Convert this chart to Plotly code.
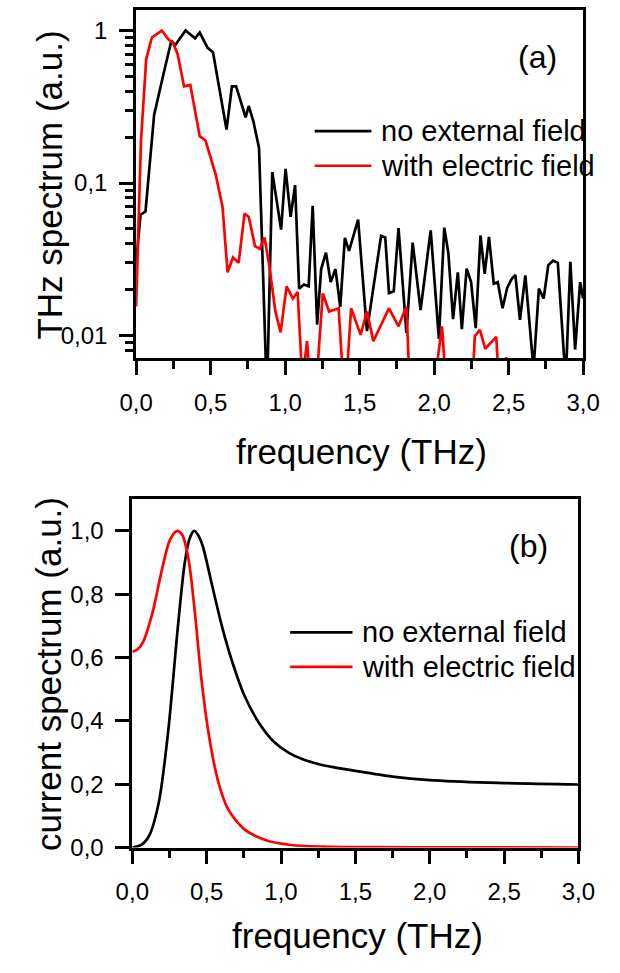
import plotly.graph_objects as go

W, H = 620, 973

# ---------------- Panel (a): THz spectrum (log scale) ----------------
a_black_f = [0.000, 0.030, 0.063, 0.121, 0.180, 0.237, 0.262, 0.332, 0.396, 0.427,
             0.480, 0.516, 0.607, 0.643, 0.671, 0.735, 0.756, 0.787, 0.825, 0.878,
             0.914, 0.973, 1.003, 1.037, 1.067, 1.094, 1.126, 1.158, 1.185, 1.215,
             1.242, 1.274, 1.306, 1.338, 1.370, 1.401, 1.429, 1.490, 1.549, 1.644,
             1.672, 1.697, 1.729, 1.761, 1.814, 1.856, 1.909, 1.977, 2.032, 2.068,
             2.095, 2.127, 2.159, 2.186, 2.218, 2.248, 2.279, 2.311, 2.339, 2.368,
             2.400, 2.427, 2.459, 2.490, 2.520, 2.545, 2.576, 2.612, 2.667, 2.703,
             2.735, 2.766, 2.798, 2.830, 2.883, 2.914, 2.946, 2.980, 3.000]
a_black_v = [0.030, 0.062, 0.065, 0.28, 0.50, 0.86, 0.80, 1.00, 0.89, 0.97,
             0.77, 0.72, 0.224, 0.43, 0.43, 0.27, 0.32, 0.254, 0.17, 0.004,
             0.118, 0.0495, 0.124, 0.060, 0.097, 0.0203, 0.0216, 0.021, 0.071, 0.0118,
             0.0273, 0.035, 0.0224, 0.0273, 0.0154, 0.0437, 0.0359, 0.0575, 0.0107, 0.045,
             0.044, 0.019, 0.0195, 0.0507, 0.0104, 0.0407, 0.0147, 0.049, 0.0095, 0.051,
             0.035, 0.0128, 0.026, 0.011, 0.0275, 0.0224, 0.0112, 0.0453, 0.0254, 0.0444,
             0.0219, 0.0224, 0.0151, 0.0205, 0.0235, 0.025, 0.0127, 0.0248, 0.006, 0.0203,
             0.0175, 0.029, 0.031, 0.030, 0.005, 0.0305, 0.0081, 0.0224, 0.0175]

a_red_f = [0.000, 0.033, 0.068, 0.106, 0.173, 0.216, 0.248, 0.279, 0.322, 0.364,
           0.427, 0.466, 0.533, 0.580, 0.614, 0.650, 0.688, 0.728, 0.756, 0.798,
           0.830, 0.862, 0.893, 0.935, 0.970, 1.010, 1.052, 1.084, 1.116, 1.147,
           1.168, 1.211, 1.253, 1.295, 1.359, 1.390, 1.411, 1.443, 1.507, 1.549,
           1.592, 1.697, 1.761, 1.814, 1.835, 2.004, 2.053, 2.078, 2.258, 2.273,
           2.307, 2.343, 2.417, 2.434, 2.484, 2.500, 3.000]
a_red_v = [0.0155, 0.19, 0.65, 0.90, 1.00, 0.875, 0.83, 0.70, 0.43, 0.44,
           0.203, 0.19, 0.115, 0.070, 0.026, 0.0325, 0.030, 0.063, 0.060, 0.0386,
           0.037, 0.044, 0.029, 0.0144, 0.0105, 0.021, 0.0175, 0.0193, 0.005, 0.0092,
           0.005, 0.005, 0.0189, 0.0144, 0.0151, 0.005, 0.005, 0.0151, 0.0101, 0.0144,
           0.0092, 0.0151, 0.0115, 0.0155, 0.005, 0.005, 0.0115, 0.005, 0.005, 0.0099,
           0.0109, 0.0082, 0.0098, 0.005, 0.0072, 0.005, 0.004]

# ---------------- Panel (b): current spectrum (linear) ----------------
b_black_f = [0.0, 0.06, 0.114, 0.178, 0.242, 0.305, 0.352, 0.385, 0.415, 0.445,
             0.475, 0.538, 0.602, 0.665, 0.75, 0.85, 0.95, 1.05, 1.15, 1.25,
             1.35, 1.5, 1.75, 2.0, 2.4, 3.0]
b_black_v = [0.0, 0.008, 0.038, 0.142, 0.37, 0.69, 0.897, 0.975, 1.0, 0.985,
             0.95, 0.825, 0.70, 0.597, 0.484, 0.395, 0.335, 0.300, 0.278, 0.264,
             0.254, 0.242, 0.224, 0.213, 0.205, 0.199]

b_red_f = [0.0, 0.036, 0.072, 0.136, 0.199, 0.252, 0.301, 0.337, 0.379, 0.421,
           0.464, 0.517, 0.58, 0.644, 0.75, 0.898, 1.068, 1.28, 1.6, 2.0, 3.0]
b_red_v = [0.618, 0.626, 0.649, 0.742, 0.877, 0.97, 1.0, 0.986, 0.908, 0.742,
           0.535, 0.349, 0.204, 0.121, 0.059, 0.023, 0.008, 0.003, 0.001, 0.0005, 0.0]

series_names = ["no external field", "with electric field"]
series_colors = ["#000000", "#FF0000"]

a_y_tickvals = [0.01, 0.1, 1]
a_y_ticktext = ["0,01", "0,1", "1"]
a_y_minor = [0.008, 0.009, 0.02, 0.03, 0.04, 0.05, 0.06, 0.07, 0.08, 0.09,
             0.2, 0.3, 0.4, 0.5, 0.6, 0.7, 0.8, 0.9]

FONT = "Liberation Sans, Arial, sans-serif"
TICKFONT = dict(family=FONT, size=24, color="black")
LW = 2.7


def px_x(x):
    return x / W


def px_y(y):
    return 1 - y / H


fig = go.Figure()

for f, v, name, col in [(a_black_f, a_black_v, series_names[0], series_colors[0]),
                        (a_red_f, a_red_v, series_names[1], series_colors[1])]:
    fig.add_trace(go.Scatter(x=f, y=v, mode="lines", name=name,
                             line=dict(color=col, width=LW),
                             xaxis="x", yaxis="y", showlegend=False))

for f, v, name, col in [(b_black_f, b_black_v, series_names[0], series_colors[0]),
                        (b_red_f, b_red_v, series_names[1], series_colors[1])]:
    fig.add_trace(go.Scatter(x=f, y=v, mode="lines", name=name,
                             line=dict(color=col, width=LW, shape="spline", smoothing=0.8),
                             xaxis="x2", yaxis="y2", showlegend=False))

common = dict(showline=True, linecolor="black", linewidth=2.7, mirror=True,
              ticks="outside", ticklen=14, tickwidth=2.5, tickcolor="black",
              tickfont=TICKFONT, showgrid=False, zeroline=False, ticklabelstandoff=7)

xcommon = dict(range=[0, 3], tickmode="linear", tick0=0, dtick=0.5, tickformat=".1f",
               minor=dict(tickmode="linear", tick0=0, dtick=0.25, ticks="outside",
                          ticklen=8, tickwidth=2.5, tickcolor="black"),
               **common)

fig.update_layout(
    width=W, height=H, autosize=False,
    margin=dict(l=0, r=0, t=0, b=0),
    paper_bgcolor="white", plot_bgcolor="white",
    separators=",.",
    showlegend=False,
    xaxis=dict(domain=[px_x(126), px_x(599)], anchor="y", **xcommon),
    yaxis=dict(domain=[px_y(363), px_y(10)], anchor="x", type="log",
               range=[-2.148, 0.1355], tickmode="array",
               tickvals=a_y_tickvals, ticktext=a_y_ticktext,
               minor=dict(tickmode="array", tickvals=a_y_minor, ticks="outside",
                          ticklen=8, tickwidth=2.5, tickcolor="black"),
               **common),
    xaxis2=dict(domain=[px_x(122), px_x(594)], anchor="y2", **xcommon),
    yaxis2=dict(domain=[px_y(859), px_y(506)], anchor="x2", range=[0, 1.1],
                tickmode="linear", tick0=0, dtick=0.2, tickformat=".1f", **common),
)

ann = []
shapes = []
# axis titles
ann.append(dict(text="frequency (THz)", x=px_x(364), y=px_y(458), xref="paper", yref="paper",
                showarrow=False, xanchor="center", yanchor="middle",
                font=dict(family=FONT, size=35, color="black")))
ann.append(dict(text="frequency (THz)", x=px_x(360), y=px_y(948), xref="paper", yref="paper",
                showarrow=False, xanchor="center", yanchor="middle",
                font=dict(family=FONT, size=35, color="black")))
ann.append(dict(text="THz spectrum (a.u.)", x=px_x(34), y=px_y(188), xref="paper", yref="paper",
                showarrow=False, xanchor="center", yanchor="middle", textangle=-90,
                font=dict(family=FONT, size=35, color="black")))
ann.append(dict(text="current spectrum (a.u.)", x=px_x(34), y=px_y(683), xref="paper", yref="paper",
                showarrow=False, xanchor="center", yanchor="middle", textangle=-90,
                font=dict(family=FONT, size=35, color="black")))
# panel labels
ann.append(dict(text="(a)", x=px_x(551), y=px_y(58), xref="paper", yref="paper",
                showarrow=False, xanchor="center", yanchor="middle",
                font=dict(family=FONT, size=32, color="black")))
ann.append(dict(text="(b)", x=px_x(541), y=px_y(553), xref="paper", yref="paper",
                showarrow=False, xanchor="center", yanchor="middle",
                font=dict(family=FONT, size=32, color="black")))

# legends (manual)
for (lx0, lx1, tx, rows) in [(315, 375, 383, [133, 168]), (289, 355, 363, [641, 676])]:
    for name, col, ry in zip(series_names, series_colors, rows):
        shapes.append(dict(type="line", xref="paper", yref="paper",
                           x0=px_x(lx0), x1=px_x(lx1), y0=px_y(ry), y1=px_y(ry),
                           line=dict(color=col, width=LW)))
        ann.append(dict(text=name, x=px_x(tx), y=px_y(ry), xref="paper", yref="paper",
                        showarrow=False, xanchor="left", yanchor="middle",
                        font=dict(family=FONT, size=29, color="black")))

fig.update_layout(annotations=ann, shapes=shapes)

fig.write_html("out.html",
               config={"displayModeBar": False},
               post_script="document.body.style.margin='0';document.body.style.padding='0';"
                           "document.documentElement.style.overflow='hidden';")
